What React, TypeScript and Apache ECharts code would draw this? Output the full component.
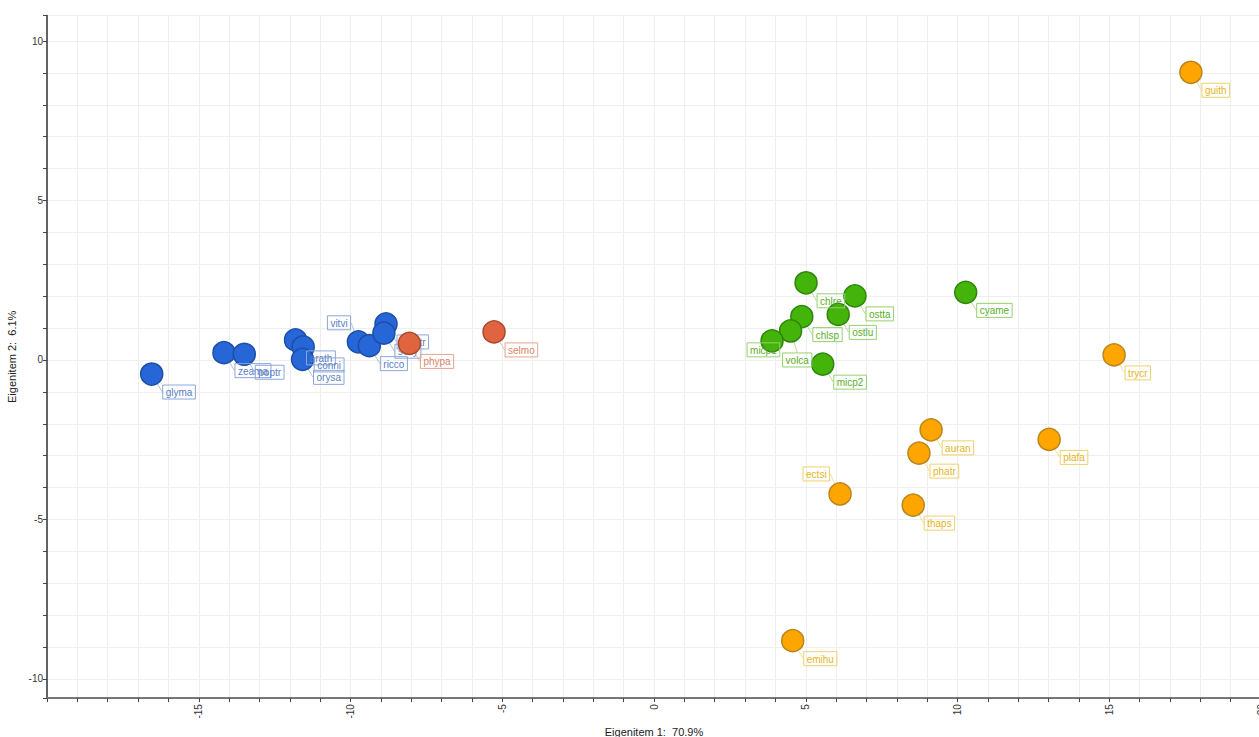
import React, { useEffect, useRef } from "react";
import * as echarts from "echarts";

// ---------------- data ----------------
const blueNames = ["glyma", "zeama", "poptr", "arath", "conni", "orysa", "vitvi", "ricco", "medtr", "solly"];
const blueX = [-16.55, -14.17, -13.5, -11.81, -11.56, -11.58, -9.74, -9.38, -8.83, -8.9];
const blueY = [-0.44, 0.23, 0.18, 0.63, 0.41, 0.02, 0.57, 0.45, 1.13, 0.84];

const redNames = ["phypa", "selmo"];
const redX = [-8.06, -5.27];
const redY = [0.52, 0.88];

const greenNames = ["chlre", "ostta", "chlsp", "ostlu", "volca", "micp1", "micp2", "cyame"];
const greenX = [5.01, 6.62, 4.87, 6.07, 4.5, 3.89, 5.56, 10.27];
const greenY = [2.42, 2.01, 1.36, 1.43, 0.91, 0.6, -0.13, 2.12];

const orangeNames = ["guith", "trycr", "plafa", "auran", "phatr", "thaps", "ectsi", "emihu"];
const orangeX = [17.69, 15.16, 13.02, 9.13, 8.73, 8.54, 6.13, 4.57];
const orangeY = [9.02, 0.16, -2.49, -2.19, -2.92, -4.55, -4.2, -8.8];

const xTickLabels = ["-15", "-10", "-5", "0", "5", "10", "15", "20"];
const yTickLabels = ["-10", "-5", "0", "5", "10"];

const xTitle = "Eigenitem 1:  70.9%";
const yTitle = "Eigenitem 2:  6.1%";

// ---------------- layout (label placement) ----------------
const DEFAULT_SHIFT: [number, number] = [11, 11];
const labelShift: Record<string, [number, number]> = {
  vitvi: [-31, -26],
  micp1: [-25, 2],
  volca: [-8, 22],
  ectsi: [-37, -27],
};

const FONT = "'Liberation Sans', Arial, sans-serif";

function makeSeries(
  names: string[],
  xs: number[],
  ys: number[],
  fill: string,
  border: string,
  text: string,
  box: string,
  z: number
) {
  return {
    type: "scatter",
    z,
    symbol: "circle",
    symbolSize: 22,
    data: names.map((n, i) => ({ name: n, value: [xs[i], ys[i]] })),
    itemStyle: { color: fill, borderColor: border, borderWidth: 1.5, opacity: 1 },
    label: {
      show: true,
      formatter: "{b}",
      color: text,
      fontSize: 10,
      fontFamily: FONT,
      borderColor: box,
      borderWidth: 1,
      padding: [2, 3, 1, 3],
      lineHeight: 11,
    },
    labelLine: { show: true, lineStyle: { color: box, width: 1, opacity: 0.7 } },
    labelLayout: (p: any) => {
      const name = names[p.dataIndex];
      const s = labelShift[name] || DEFAULT_SHIFT;
      const cx = p.rect.x + p.rect.width / 2;
      const cy = p.rect.y + p.rect.height / 2;
      return { x: cx + s[0], y: cy + s[1], align: "left", verticalAlign: "top" };
    },
    emphasis: { disabled: true },
  };
}

export default function App() {
  const ref = useRef<HTMLDivElement>(null);
  useEffect(() => {
    document.body.style.margin = "0";
    if (!ref.current) return;
    const chart = echarts.init(ref.current, undefined, { renderer: "svg" });
    const isTick = (v: number, list: string[]) => list.indexOf(String(Math.round(v * 1000) / 1000)) >= 0;
    chart.setOption({
      animation: false,
      backgroundColor: "#ffffff",
      grid: {
        left: 47,
        top: 15.5,
        width: 1214,
        height: 682.6,
        containLabel: false,
        outerBoundsMode: "none",
      },
      xAxis: {
        type: "value",
        min: -20,
        max: 20,
        interval: 1,
        name: xTitle,
        nameLocation: "middle",
        nameGap: 26,
        nameTextStyle: { fontFamily: FONT, fontSize: 11, color: "#222" },
        axisLine: { onZero: false, lineStyle: { color: "#777", width: 2 } },
        axisTick: { show: true, length: 4, lineStyle: { color: "#444", width: 1 } },
        axisLabel: {
          rotate: 90,
          margin: 6,
          fontFamily: FONT,
          fontSize: 10,
          color: "#333",
          formatter: (v: number) => (isTick(v, xTickLabels) ? String(v) : ""),
        },
        splitLine: { show: true, lineStyle: { color: "#eeeeee", width: 1 } },
      },
      yAxis: {
        type: "value",
        min: -10.6,
        max: 10.8,
        minInterval: 1,
        maxInterval: 1,
        splitNumber: 21,
        name: yTitle,
        nameLocation: "middle",
        nameGap: 27,
        nameRotate: 90,
        nameTextStyle: { fontFamily: FONT, fontSize: 11, color: "#222" },
        axisLine: { onZero: false, lineStyle: { color: "#333", width: 1.5 } },
        axisTick: { show: true, length: 4, lineStyle: { color: "#444", width: 1 } },
        axisLabel: {
          margin: 4,
          fontFamily: FONT,
          fontSize: 10,
          color: "#333",
          formatter: (v: number) => (isTick(v, yTickLabels) ? String(v) : ""),
        },
        splitLine: { show: true, lineStyle: { color: "#eeeeee", width: 1 } },
      },
      series: [
        makeSeries(blueNames, blueX, blueY, "#2766d6", "#1a4ea8", "#5b7fc4", "#8aa6dc", 2),
        makeSeries(redNames, redX, redY, "#e0643f", "#a9482c", "#d9836a", "#e3a48f", 3),
        makeSeries(greenNames, greenX, greenY, "#44b40a", "#2d860a", "#5cae2b", "#94d06e", 2),
        makeSeries(orangeNames, orangeX, orangeY, "#ffa500", "#b8861a", "#e6b422", "#f0d069", 2),
      ],
    });
    return () => chart.dispose();
  }, []);
  return <div ref={ref} style={{ width: 1259, height: 737 }} />;
}
